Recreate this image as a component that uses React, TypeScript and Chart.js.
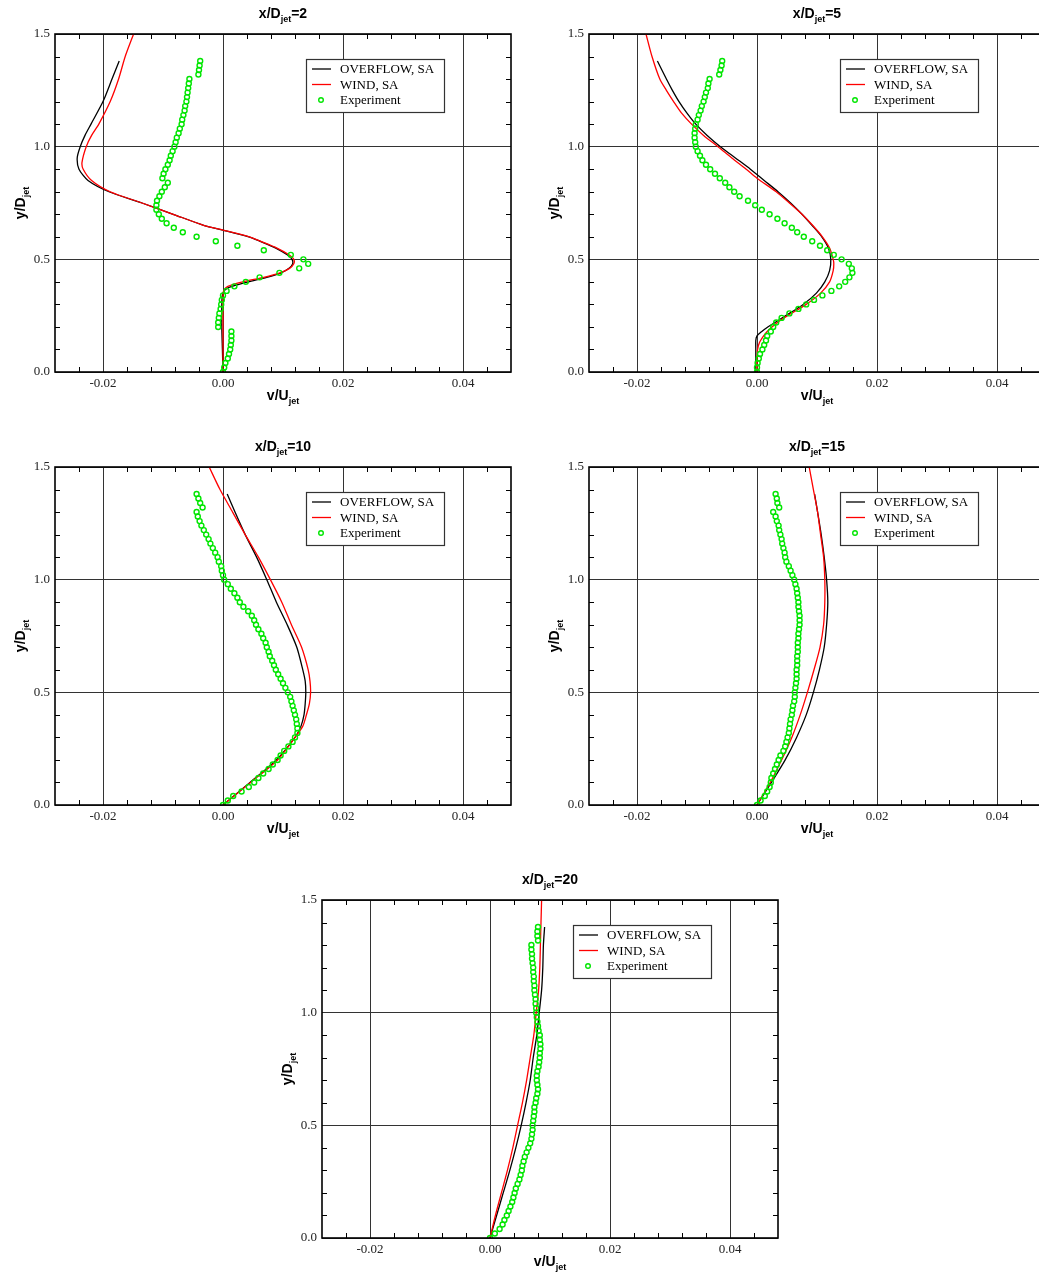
import React, { useEffect, useRef } from 'react';
import { Chart, registerables } from 'chart.js';

Chart.register(...registerables);

// ---------- axes ----------
const X_MIN = -0.028;
const X_MAX = 0.048;
const Y_MIN = 0;
const Y_MAX = 1.5;
const X_TICKS = [-0.02, 0, 0.02, 0.04];
const Y_TICKS = [0, 0.5, 1.0, 1.5];
const X_MINOR = [-0.024, -0.016, -0.012, -0.008, -0.004, 0.004, 0.008, 0.012, 0.016, 0.024, 0.028, 0.032, 0.036, 0.044];
const Y_MINOR = [0.1, 0.2, 0.3, 0.4, 0.6, 0.7, 0.8, 0.9, 1.1, 1.2, 1.3, 1.4];
const SERIES_LABELS = ['OVERFLOW, SA', 'WIND, SA', 'Experiment'];
const X_TITLE = ['v/U', 'jet', ''];
const Y_TITLE = ['y/D', 'jet', ''];
const STATIONS = ['2', '5', '10', '15', '20'];

// ---------- experiment (shared y stations) ----------
const EXP_Y = [
  0.00, 0.02, 0.04, 0.06, 0.08, 0.10, 0.12, 0.14, 0.16, 0.18,
  0.20, 0.22, 0.24, 0.26, 0.28, 0.30, 0.32, 0.34,
  0.36, 0.38, 0.40, 0.42, 0.44, 0.46, 0.48, 0.50, 0.52, 0.54, 0.56, 0.58, 0.60,
  0.62, 0.64, 0.66, 0.68, 0.70, 0.72, 0.74, 0.76, 0.78, 0.80, 0.82, 0.84, 0.86, 0.88, 0.90, 0.92, 0.94, 0.96, 0.98, 1.00,
  1.02, 1.04, 1.06, 1.08, 1.10, 1.12, 1.14, 1.16, 1.18, 1.20, 1.22, 1.24, 1.26, 1.28, 1.30,
  1.32, 1.34, 1.36, 1.38,
];

// ---------- x/D = 2 ----------
const P1_EXP_X = [
  0.0000, 0.0002, 0.0004, 0.0008, 0.0010, 0.0012, 0.0013, 0.0014, 0.0014, 0.0014,
  -0.0008, -0.0008, -0.0007, -0.0006, -0.0004, -0.0003, -0.0002, 0.0000,
  0.0006, 0.0019, 0.0038, 0.0061, 0.0094, 0.0127, 0.0142, 0.0134, 0.0113, 0.0068, 0.0024, -0.0012, -0.0044,
  -0.0067, -0.0082, -0.0094, -0.0102, -0.0107, -0.0111, -0.0111, -0.0110, -0.0106, -0.0102, -0.0097, -0.0092, -0.0101, -0.0099, -0.0096, -0.0092, -0.0089, -0.0087, -0.0084, -0.0081,
  -0.0079, -0.0077, -0.0074, -0.0072, -0.0069, -0.0068, -0.0066, -0.0064, -0.0063, -0.0061, -0.0060, -0.0059, -0.0058, -0.0057, -0.0056,
  -0.0041, -0.0040, -0.0039, -0.0038,
];
const P1_OVF_Y = [0, 0.1, 0.2, 0.3, 0.34, 0.36, 0.37, 0.38, 0.40, 0.42, 0.44, 0.46, 0.48, 0.50, 0.52, 0.55, 0.58, 0.60, 0.63, 0.65, 0.70, 0.75, 0.80, 0.85, 0.90, 0.95, 1.00, 1.05, 1.10, 1.20, 1.30, 1.38];
const P1_OVF_X = [0, -0.0001, -0.0002, -0.0002, -0.0001, 0.0002, 0.0006, 0.0015, 0.0042, 0.0073, 0.0097, 0.0110, 0.0116, 0.0115, 0.0107, 0.0088, 0.0062, 0.0043, 0.0000, -0.0031, -0.0083, -0.0135, -0.0190, -0.0225, -0.0240, -0.0243, -0.0238, -0.0230, -0.0220, -0.0200, -0.0185, -0.0173];
const P1_WIND_Y = [0, 0.2, 0.34, 0.36, 0.38, 0.40, 0.42, 0.44, 0.46, 0.48, 0.50, 0.52, 0.55, 0.58, 0.60, 0.63, 0.65, 0.70, 0.75, 0.80, 0.85, 0.90, 0.93, 1.00, 1.05, 1.10, 1.20, 1.30, 1.40, 1.50];
const P1_WIND_X = [0, 0, 0, 0.0001, 0.0008, 0.0033, 0.0068, 0.0095, 0.0111, 0.0118, 0.0118, 0.0110, 0.0090, 0.0063, 0.0044, 0.0000, -0.0031, -0.0083, -0.0135, -0.0188, -0.0219, -0.0233, -0.0235, -0.0228, -0.0219, -0.0207, -0.0188, -0.0174, -0.0163, -0.0149];

// ---------- x/D = 5 ----------
const P2_EXP_X = [
  0.0000, 0.0000, 0.0001, 0.0003, 0.0005, 0.0009, 0.0012, 0.0015, 0.0017, 0.0023,
  0.0027, 0.0032, 0.0041, 0.0054, 0.0069, 0.0082, 0.0095, 0.0109,
  0.0124, 0.0137, 0.0147, 0.0154, 0.0159, 0.0158, 0.0153, 0.0141, 0.0128, 0.0117, 0.0105, 0.0092, 0.0078,
  0.0067, 0.0058, 0.0046, 0.0034, 0.0021, 0.0008, -0.0003, -0.0015, -0.0029, -0.0038, -0.0046, -0.0053, -0.0062, -0.0070, -0.0078, -0.0085, -0.0091, -0.0095, -0.0099, -0.0102,
  -0.0103, -0.0104, -0.0104, -0.0103, -0.0102, -0.0099, -0.0097, -0.0094, -0.0092, -0.0089, -0.0087, -0.0085, -0.0082, -0.0081, -0.0079,
  -0.0063, -0.0061, -0.0059, -0.0058,
];
const P2_OVF_Y = [0, 0.05, 0.10, 0.14, 0.16, 0.18, 0.20, 0.22, 0.25, 0.30, 0.35, 0.40, 0.45, 0.50, 0.55, 0.60, 0.65, 0.70, 0.75, 0.80, 0.85, 0.90, 0.95, 1.00, 1.05, 1.10, 1.15, 1.20, 1.25, 1.30, 1.38];
const P2_OVF_X = [-0.0002, -0.0002, -0.0002, -0.0002, 0.0000, 0.0008, 0.0018, 0.0030, 0.0048, 0.0077, 0.0099, 0.0113, 0.0121, 0.0123, 0.0119, 0.0108, 0.0092, 0.0075, 0.0056, 0.0035, 0.0012, -0.0011, -0.0036, -0.0061, -0.0083, -0.0102, -0.0117, -0.0130, -0.0141, -0.0151, -0.0166];
const P2_WIND_Y = [0, 0.05, 0.10, 0.13, 0.16, 0.18, 0.20, 0.22, 0.25, 0.30, 0.35, 0.40, 0.45, 0.48, 0.50, 0.55, 0.60, 0.65, 0.70, 0.75, 0.80, 0.86, 0.90, 0.95, 1.00, 1.05, 1.10, 1.15, 1.20, 1.25, 1.30, 1.40, 1.50];
const P2_WIND_X = [0, 0, 0.0001, 0.0004, 0.0011, 0.0017, 0.0025, 0.0034, 0.0051, 0.0082, 0.0106, 0.0121, 0.0127, 0.0128, 0.0127, 0.0121, 0.0109, 0.0093, 0.0075, 0.0054, 0.0032, 0.0000, -0.0018, -0.0042, -0.0065, -0.0089, -0.0109, -0.0126, -0.0139, -0.0151, -0.0162, -0.0175, -0.0185];

// ---------- x/D = 10 ----------
const P3_EXP_X = [
  0.0000, 0.0008, 0.0017, 0.0031, 0.0043, 0.0052, 0.0059, 0.0067, 0.0076, 0.0083,
  0.0091, 0.0096, 0.0102, 0.0109, 0.0116, 0.0120, 0.0124, 0.0124,
  0.0123, 0.0122, 0.0120, 0.0118, 0.0116, 0.0114, 0.0112, 0.0108, 0.0104, 0.0100, 0.0096, 0.0092, 0.0088,
  0.0085, 0.0082, 0.0078, 0.0076, 0.0073, 0.0071, 0.0067, 0.0064, 0.0059, 0.0055, 0.0052, 0.0048, 0.0042, 0.0034, 0.0028, 0.0024, 0.0019, 0.0013, 0.0008, 0.0002,
  0.0000, -0.0002, -0.0003, -0.0007, -0.0009, -0.0013, -0.0017, -0.0021, -0.0024, -0.0028, -0.0032, -0.0036, -0.0039, -0.0042, -0.0044,
  -0.0034, -0.0038, -0.0041, -0.0044,
];
const P3_OVF_Y = [0, 0.1, 0.2, 0.3, 0.35, 0.4, 0.45, 0.5, 0.55, 0.6, 0.7, 0.8, 0.9, 1.0, 1.1, 1.2, 1.3, 1.38];
const P3_OVF_X = [0, 0.0045, 0.0089, 0.0120, 0.0130, 0.0135, 0.0137, 0.0138, 0.0137, 0.0133, 0.0123, 0.0107, 0.0089, 0.0073, 0.0056, 0.0037, 0.0020, 0.0007];
const P3_WIND_Y = [0, 0.1, 0.2, 0.3, 0.35, 0.4, 0.45, 0.5, 0.55, 0.6, 0.7, 0.8, 0.9, 1.0, 1.1, 1.2, 1.3, 1.4, 1.5];
const P3_WIND_X = [0, 0.0046, 0.0091, 0.0120, 0.0133, 0.0139, 0.0144, 0.0146, 0.0145, 0.0142, 0.0131, 0.0114, 0.0098, 0.0079, 0.0059, 0.0037, 0.0016, -0.0005, -0.0023];

// ---------- x/D = 15 ----------
const P4_EXP_X = [
  0.0000, 0.0006, 0.0013, 0.0017, 0.0021, 0.0023, 0.0024, 0.0027, 0.0030, 0.0033,
  0.0036, 0.0039, 0.0044, 0.0047, 0.0049, 0.0051, 0.0053, 0.0054,
  0.0055, 0.0056, 0.0058, 0.0059, 0.0060, 0.0062, 0.0063, 0.0063, 0.0064, 0.0065, 0.0066, 0.0066, 0.0066,
  0.0067, 0.0067, 0.0067, 0.0068, 0.0068, 0.0068, 0.0069, 0.0069, 0.0070, 0.0071, 0.0071, 0.0071, 0.0070, 0.0069, 0.0069, 0.0068, 0.0067, 0.0066, 0.0064, 0.0062,
  0.0059, 0.0056, 0.0053, 0.0049, 0.0047, 0.0046, 0.0044, 0.0042, 0.0041, 0.0039, 0.0037, 0.0036, 0.0033, 0.0031, 0.0027,
  0.0037, 0.0034, 0.0033, 0.0031,
];
const P4_OVF_Y = [0, 0.1, 0.2, 0.3, 0.4, 0.5, 0.6, 0.7, 0.8, 0.9, 1.0, 1.1, 1.2, 1.3, 1.38];
const P4_OVF_X = [0, 0.0024, 0.0047, 0.0066, 0.0082, 0.0094, 0.0104, 0.0112, 0.0116, 0.0118, 0.0116, 0.0112, 0.0107, 0.0101, 0.0096];
const P4_WIND_Y = [0, 0.1, 0.2, 0.3, 0.4, 0.5, 0.6, 0.7, 0.8, 0.9, 1.0, 1.1, 1.2, 1.3, 1.4, 1.5];
const P4_WIND_X = [0, 0.0022, 0.0041, 0.0058, 0.0072, 0.0084, 0.0095, 0.0105, 0.0111, 0.0113, 0.0113, 0.0111, 0.0106, 0.0101, 0.0094, 0.0087];

// ---------- x/D = 20 ----------
const P5_EXP_X = [
  0.0000, 0.0008, 0.0016, 0.0021, 0.0024, 0.0028, 0.0031, 0.0034, 0.0037, 0.0039,
  0.0041, 0.0043, 0.0046, 0.0049, 0.0051, 0.0053, 0.0054, 0.0056,
  0.0058, 0.0061, 0.0064, 0.0067, 0.0069, 0.0070, 0.0071, 0.0071, 0.0072, 0.0073, 0.0074, 0.0074, 0.0076,
  0.0077, 0.0079, 0.0080, 0.0079, 0.0078, 0.0078, 0.0079, 0.0081, 0.0082, 0.0083, 0.0083, 0.0084, 0.0084, 0.0083, 0.0083, 0.0081, 0.0080, 0.0079, 0.0078, 0.0077,
  0.0077, 0.0076, 0.0076, 0.0075, 0.0074, 0.0074, 0.0073, 0.0073, 0.0072, 0.0072, 0.0071, 0.0070, 0.0070, 0.0069, 0.0069,
  0.0080, 0.0079, 0.0079, 0.0080,
];
const P5_OVF_Y = [0, 0.1, 0.2, 0.3, 0.4, 0.5, 0.6, 0.7, 0.8, 0.9, 1.0, 1.1, 1.2, 1.3, 1.38];
const P5_OVF_X = [0, 0.0011, 0.0022, 0.0033, 0.0043, 0.0052, 0.0060, 0.0067, 0.0072, 0.0078, 0.0082, 0.0086, 0.0088, 0.0089, 0.0091];
const P5_WIND_Y = [0, 0.1, 0.2, 0.3, 0.4, 0.5, 0.6, 0.7, 0.8, 0.9, 1.0, 1.1, 1.2, 1.3, 1.4, 1.5];
const P5_WIND_X = [0, 0.0009, 0.0019, 0.0029, 0.0038, 0.0046, 0.0054, 0.0061, 0.0067, 0.0073, 0.0077, 0.0081, 0.0083, 0.0084, 0.0085, 0.0086];

// ---------- layout (page pixels) ----------
type Layout = { left: number; top: number; w: number; h: number; pl: number; pt: number; pr: number; pb: number };
const LAYOUTS: Layout[] = [
  { left: 0, top: 0, w: 520, h: 420, pl: 55, pt: 34, pr: 511, pb: 372 },
  { left: 520, top: 0, w: 540, h: 420, pl: 69, pt: 34, pr: 525, pb: 372 },
  { left: 0, top: 430, w: 520, h: 420, pl: 55, pt: 37, pr: 511, pb: 375 },
  { left: 520, top: 430, w: 540, h: 420, pl: 69, pt: 37, pr: 525, pb: 375 },
  { left: 270, top: 860, w: 520, h: 416, pl: 52, pt: 40, pr: 508, pb: 378 },
];

const PANEL_DATA = [
  { ovfX: P1_OVF_X, ovfY: P1_OVF_Y, windX: P1_WIND_X, windY: P1_WIND_Y, expX: P1_EXP_X },
  { ovfX: P2_OVF_X, ovfY: P2_OVF_Y, windX: P2_WIND_X, windY: P2_WIND_Y, expX: P2_EXP_X },
  { ovfX: P3_OVF_X, ovfY: P3_OVF_Y, windX: P3_WIND_X, windY: P3_WIND_Y, expX: P3_EXP_X },
  { ovfX: P4_OVF_X, ovfY: P4_OVF_Y, windX: P4_WIND_X, windY: P4_WIND_Y, expX: P4_EXP_X },
  { ovfX: P5_OVF_X, ovfY: P5_OVF_Y, windX: P5_WIND_X, windY: P5_WIND_Y, expX: P5_EXP_X },
];

const SERIF = '"Liberation Serif", "Times New Roman", Times, serif';
const SANS = '"Liberation Sans", Arial, Helvetica, sans-serif';
const OVF_COLOR = '#000000';
const WIND_COLOR = '#ff0000';
const EXP_COLOR = '#00e600';

const zip = (xs: number[], ys: number[]) => xs.map((x, i) => ({ x, y: ys[i] }));

function drawSubText(ctx: CanvasRenderingContext2D, parts: string[], x: number, y: number, rotate: boolean) {
  const main = `bold 14px ${SANS}`;
  const sub = `bold 9px ${SANS}`;
  ctx.save();
  ctx.font = main;
  const w1 = ctx.measureText(parts[0]).width;
  const w3 = ctx.measureText(parts[2]).width;
  ctx.font = sub;
  const w2 = ctx.measureText(parts[1]).width;
  const total = w1 + w2 + w3;
  ctx.translate(x, y);
  if (rotate) ctx.rotate(-Math.PI / 2);
  ctx.fillStyle = '#000';
  ctx.textAlign = 'left';
  ctx.textBaseline = 'alphabetic';
  let cx = -total / 2;
  ctx.font = main;
  ctx.fillText(parts[0], cx, 0);
  cx += w1;
  ctx.font = sub;
  ctx.fillText(parts[1], cx, 4);
  cx += w2;
  ctx.font = main;
  ctx.fillText(parts[2], cx, 0);
  ctx.restore();
}

function makeDecorPlugin(station: string) {
  return {
    id: 'decor',
    afterDraw(chart: any) {
      const ctx: CanvasRenderingContext2D = chart.ctx;
      const { left, right, top, bottom } = chart.chartArea;
      const xs = chart.scales.x;
      const ys = chart.scales.y;
      ctx.save();
      // minor ticks
      ctx.strokeStyle = '#000';
      ctx.lineWidth = 1;
      ctx.beginPath();
      X_MINOR.forEach((v) => {
        const px = Math.round(xs.getPixelForValue(v)) + 0.5;
        ctx.moveTo(px, bottom);
        ctx.lineTo(px, bottom - 5);
        ctx.moveTo(px, top);
        ctx.lineTo(px, top + 5);
      });
      Y_MINOR.forEach((v) => {
        const py = Math.round(ys.getPixelForValue(v)) + 0.5;
        ctx.moveTo(left, py);
        ctx.lineTo(left + 5, py);
        ctx.moveTo(right, py);
        ctx.lineTo(right - 5, py);
      });
      ctx.stroke();
      // frame
      ctx.lineWidth = 1.6;
      ctx.strokeRect(left, top, right - left, bottom - top);

      // legend
      const bx = left + 251;
      const by = top + 25;
      ctx.fillStyle = '#fff';
      ctx.fillRect(bx, by, 138, 53);
      ctx.strokeStyle = '#333';
      ctx.lineWidth = 1.2;
      ctx.strokeRect(bx + 0.5, by + 0.5, 138, 53);
      const rows = [by + 10, by + 25.5, by + 41];
      const ds = chart.data.datasets;
      ctx.lineWidth = 1.3;
      ctx.strokeStyle = ds[0].borderColor;
      ctx.beginPath();
      ctx.moveTo(bx + 6, rows[0]);
      ctx.lineTo(bx + 25, rows[0]);
      ctx.stroke();
      ctx.strokeStyle = ds[1].borderColor;
      ctx.beginPath();
      ctx.moveTo(bx + 6, rows[1]);
      ctx.lineTo(bx + 25, rows[1]);
      ctx.stroke();
      ctx.strokeStyle = ds[2].pointBorderColor;
      ctx.lineWidth = 1.4;
      ctx.beginPath();
      ctx.arc(bx + 15, rows[2], 2.3, 0, Math.PI * 2);
      ctx.stroke();
      ctx.fillStyle = '#000';
      ctx.font = `13px ${SERIF}`;
      ctx.textAlign = 'left';
      ctx.textBaseline = 'middle';
      ds.forEach((d: any, i: number) => ctx.fillText(d.label, bx + 34, rows[i] + 1));

      // titles
      const cx = (left + right) / 2;
      const cy = (top + bottom) / 2;
      drawSubText(ctx, ['x/D', 'jet', '=' + station], cx, top - 16, false);
      drawSubText(ctx, X_TITLE, cx, bottom + 28, false);
      drawSubText(ctx, Y_TITLE, left - 30, cy, true);
      ctx.restore();
    },
  };
}

function Panel({ layout, data, station }: { layout: Layout; data: any; station: string }) {
  const ref = useRef<HTMLCanvasElement>(null);
  useEffect(() => {
    if (!ref.current) return;
    const L = layout;
    const chart = new Chart(ref.current, {
      type: 'scatter',
      data: {
        datasets: [
          {
            label: SERIES_LABELS[0],
            data: zip(data.ovfX, data.ovfY),
            showLine: true,
            borderColor: OVF_COLOR,
            backgroundColor: OVF_COLOR,
            borderWidth: 1.3,
            pointRadius: 0,
            tension: 0.25,
            order: 2,
          },
          {
            label: SERIES_LABELS[1],
            data: zip(data.windX, data.windY),
            showLine: true,
            borderColor: WIND_COLOR,
            backgroundColor: WIND_COLOR,
            borderWidth: 1.3,
            pointRadius: 0,
            tension: 0.25,
            order: 1,
          },
          {
            label: SERIES_LABELS[2],
            data: zip(data.expX, EXP_Y),
            showLine: false,
            pointRadius: 2.5,
            pointBorderWidth: 1.4,
            pointBorderColor: EXP_COLOR,
            pointBackgroundColor: 'rgba(0,0,0,0)',
            borderColor: EXP_COLOR,
            order: 0,
          },
        ],
      } as any,
      options: {
        responsive: false,
        animation: false,
        devicePixelRatio: 1,
        events: [],
        layout: { padding: { left: 0, top: L.pt, right: L.w - L.pr, bottom: 0 } },
        plugins: { legend: { display: false }, title: { display: false }, tooltip: { enabled: false } },
        scales: {
          x: {
            type: 'linear',
            position: 'bottom',
            min: X_MIN,
            max: X_MAX,
            afterFit: (s: any) => { s.height = L.h - L.pb; },
            afterBuildTicks: (s: any) => { s.ticks = X_TICKS.map((v) => ({ value: v })); },
            ticks: {
              autoSkip: false,
              maxRotation: 0,
              padding: 4,
              color: '#222',
              font: { family: SERIF, size: 13 },
              callback: (v: any) => Number(v).toFixed(2),
            },
            grid: { drawTicks: false, color: '#333', lineWidth: 1 },
            border: { display: false },
          },
          y: {
            type: 'linear',
            position: 'left',
            min: Y_MIN,
            max: Y_MAX,
            afterFit: (s: any) => { s.width = L.pl; },
            afterBuildTicks: (s: any) => { s.ticks = Y_TICKS.map((v) => ({ value: v })); },
            ticks: {
              autoSkip: false,
              padding: 5,
              color: '#222',
              font: { family: SERIF, size: 13 },
              callback: (v: any) => Number(v).toFixed(1),
            },
            grid: { drawTicks: false, color: '#333', lineWidth: 1 },
            border: { display: false },
          },
        },
      } as any,
      plugins: [makeDecorPlugin(station)],
    });
    return () => chart.destroy();
  }, []);
  return (
    <div style={{ position: 'absolute', left: layout.left, top: layout.top, width: layout.w, height: layout.h }}>
      <canvas ref={ref} width={layout.w} height={layout.h} style={{ width: layout.w, height: layout.h, display: 'block' }} />
    </div>
  );
}

export default function App() {
  return (
    <div style={{ position: 'absolute', left: 0, top: 0, width: 1039, height: 1276, overflow: 'hidden', background: '#fff' }}>
      {LAYOUTS.map((l, i) => (
        <Panel key={i} layout={l} data={PANEL_DATA[i]} station={STATIONS[i]} />
      ))}
    </div>
  );
}
